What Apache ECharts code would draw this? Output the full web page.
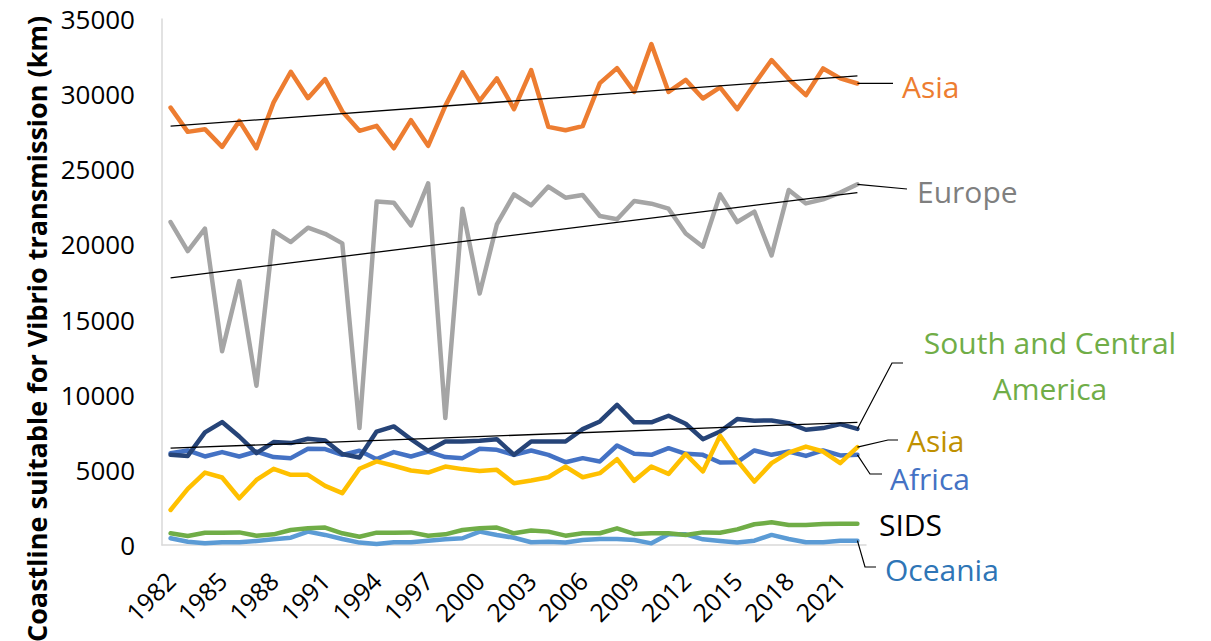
<!DOCTYPE html>
<html><head><meta charset="utf-8">
<script src="https://cdn.jsdelivr.net/npm/echarts@6/dist/echarts.min.js"></script>
<style>html,body{margin:0;padding:0;background:#fff}#c{width:1211px;height:641px}</style>
</head><body><div id="c"></div>
<script>
const years = ['1982','1983','1984','1985','1986','1987','1988','1989','1990','1991','1992','1993','1994','1995','1996','1997','1998','1999','2000','2001','2002','2003','2004','2005','2006','2007','2008','2009','2010','2011','2012','2013','2014','2015','2016','2017','2018','2019','2020','2021','2022'];
const asiaTop = [29100,27490,27670,26490,28220,26400,29450,31490,29730,31000,28850,27560,27890,26400,28270,26560,29220,31450,29560,31050,29000,31600,27820,27600,27870,30730,31730,30150,33330,30150,30950,29710,30450,29000,30670,32270,31000,29930,31710,31050,30710];
const europe = [21490,19560,21050,12890,17560,10600,20890,20160,21110,20710,20070,7780,22850,22780,21270,24070,8450,22380,16730,21330,23330,22600,23850,23110,23290,21890,21670,22890,22710,22380,20730,19850,23330,21490,22180,19270,23620,22730,23000,23450,24000];
const southCentral = [6000,5930,7490,8180,7220,6110,6850,6780,7070,6950,6050,5820,7550,7890,7040,6270,6890,6890,6930,7040,6000,6890,6890,6890,7710,8220,9330,8160,8160,8600,8070,7040,7550,8380,8270,8290,8110,7670,7780,8040,7730];
const africa = [6110,6290,5890,6180,5890,6220,5850,5780,6400,6380,6000,6270,5710,6180,5890,6220,5850,5780,6400,6330,6000,6290,6000,5510,5780,5560,6620,6070,6000,6440,6070,6000,5490,5510,6290,6000,6220,5930,6290,5960,6000];
const asiaLow = [2330,3730,4820,4490,3110,4330,5070,4670,4670,3930,3450,5070,5560,5270,4960,4820,5220,5050,4930,5000,4110,4290,4510,5220,4510,4780,5710,4270,5220,4730,6050,4890,7270,5620,4220,5450,6150,6550,6220,5450,6510];
const sids = [780,600,820,820,840,620,710,1000,1110,1160,780,550,820,820,840,620,710,1000,1110,1160,780,960,890,620,780,780,1110,740,780,780,670,840,820,1040,1380,1510,1330,1330,1400,1420,1420];
const oceania = [450,220,110,180,180,270,380,490,890,670,400,160,70,180,180,290,380,450,890,670,480,180,220,160,330,400,400,330,110,710,710,380,270,160,290,670,400,180,180,290,290];
// trendline end values (first year, last year)
const trendAsia = [27870, 31220];
const trendEurope = [17780, 23450];
const trendSouthCentral = [6440, 8160];
const yTickValues = [0, 5000, 10000, 15000, 20000, 25000, 30000, 35000];

const FONT = '"Open Sans", "Liberation Sans", sans-serif';
const chart = echarts.init(document.getElementById('c'), null, {renderer: 'svg'});

function trend(t) {
  return years.map((_, i) => i === 0 ? t[0] : (i === years.length - 1 ? t[1] : null));
}
function line(name, data, color, z) {
  return {name, type: 'line', data, symbol: 'none', z: z || 2,
    lineStyle: {color, width: 4.5, join: 'round', cap: 'round'}, itemStyle: {color}};
}
function trendLine(name, t) {
  return {name, type: 'line', data: trend(t), connectNulls: true, symbol: 'none', z: 10,
    lineStyle: {color: '#000', width: 1.3}, itemStyle: {color: '#000'}};
}

chart.setOption({
  animation: false,
  backgroundColor: '#fff',
  grid: {left: 162, right: 345, top: 19, bottom: 96},
  xAxis: {
    type: 'category', data: years, boundaryGap: true,
    axisLine: {lineStyle: {color: '#D9D9D9', width: 1.5}},
    axisTick: {show: false},
    axisLabel: {interval: 2, rotate: 45, margin: 31, color: '#000', fontSize: 25, fontFamily: FONT}
  },
  yAxis: {
    type: 'value', min: yTickValues[0], max: yTickValues[yTickValues.length - 1], interval: 5000,
    axisLine: {show: true, lineStyle: {color: '#D9D9D9', width: 1.5}},
    axisTick: {show: false},
    splitLine: {show: false},
    axisLabel: {margin: 27, color: '#000', fontSize: 26, fontFamily: FONT, formatter: v => String(v)}
  },
  series: [
    line('Europe', europe, '#A5A5A5'),
    line('Asia', asiaTop, '#ED7D31'),
    line('Oceania', oceania, '#5B9BD5'),
    line('SIDS', sids, '#70AD47'),
    line('Africa', africa, '#4472C4'),
    line('South and Central America', southCentral, '#264478', 3),
    line('Asia ', asiaLow, '#FFC000', 4),
    trendLine('Trend Asia', trendAsia),
    trendLine('Trend Europe', trendEurope),
    trendLine('Trend South and Central America', trendSouthCentral)
  ]
});

const last = years.length - 1;
function px(arr) { return chart.convertToPixel({gridIndex: 0}, [years[last], arr[last]]); }
function leader(points) {
  return {type: 'polyline', shape: {points}, style: {stroke: '#000', lineWidth: 1.2, fill: null}, z: 20};
}
function label(text, x, y, color, align) {
  return {type: 'text', x, y, z: 20,
    style: {text, fill: color, font: '30px ' + FONT, textAlign: align || 'left', textVerticalAlign: 'middle', align: align || 'left', verticalAlign: 'middle'}};
}
const pA = px(asiaTop), pE = px(europe), pS = px(southCentral), pY = px(asiaLow), pAf = px(africa), pO = px(oceania);
chart.setOption({
  graphic: [
    {type: 'text', x: 36, y: 329, rotation: Math.PI / 2, z: 20,
      style: {text: 'Coastline suitable for Vibrio transmission (km)', fill: '#000', font: 'bold 27px ' + FONT,
        textAlign: 'center', textVerticalAlign: 'middle', align: 'center', verticalAlign: 'middle'}},
    leader([[pA[0], pA[1]], [893, pA[1]]]),
    leader([[pE[0], pE[1]], [907, 189]]),
    leader([[pS[0], pS[1]], [892, 363], [903, 363]]),
    leader([[pY[0], pY[1]], [888, 440], [898, 440]]),
    leader([[pAf[0], pAf[1]], [870, 474], [882, 474]]),
    leader([[pO[0], pO[1]], [865, 567], [876, 567]]),
    label('Asia', 902, 86, '#ED7D31'),
    label('Europe', 917, 191, '#7F7F7F'),
    label('South and Central', 1050, 342, '#70AD47', 'center'),
    label('America', 1050, 388, '#70AD47', 'center'),
    label('Asia', 907, 440, '#BF9000'),
    label('Africa', 890, 478, '#4472C4'),
    label('SIDS', 879, 524, '#000'),
    label('Oceania', 885, 569, '#2E75B6')
  ]
});
</script></body></html>
